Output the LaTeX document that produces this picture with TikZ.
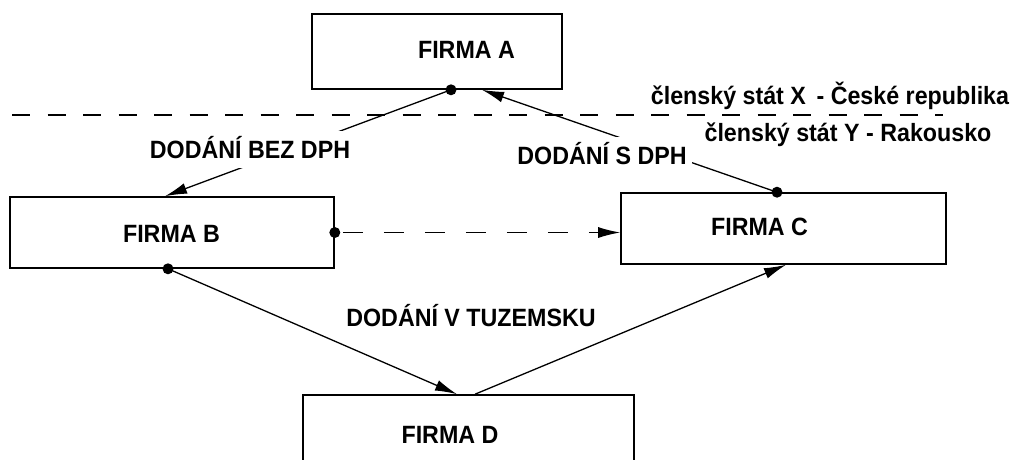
\documentclass[tikz,border=0pt]{standalone}
\usepackage{fontspec}
\setmainfont{Liberation Sans}[FakeStretch=0.93]
\usetikzlibrary{arrows.meta,calc}
\begin{document}
\begin{tikzpicture}[x=1pt,y=-1pt,
  box/.style={draw, line width=1.6pt, rectangle, inner sep=0pt},
  txt/.style={font=\fontsize{25}{30}\selectfont\bfseries, anchor=base, inner sep=0pt},
  lbl/.style={txt, fill=white, inner sep=5pt, text depth=5pt},
  conn/.style={line width=1.3pt},
  arr/.style={conn, -{Latex[length=22pt,width=11pt]}},
  dot/.style={circle, fill, inner sep=0pt, minimum size=11pt},
  border/.style={line width=1.8pt, dash pattern=on 18pt off 17.5pt}
]
\useasboundingbox (0,0) rectangle (1019,459);

% boxes
\node[box, minimum width=250pt, minimum height=75pt] (A) at (437,51.5) {};
\node[box, minimum width=324pt, minimum height=71pt] (B) at (172,232.5) {};
\node[box, minimum width=325pt, minimum height=71pt] (C) at (783.5,228.5) {};
\node[box, minimum width=331pt, minimum height=85pt] (D) at (468.5,437.5) {};

\node[txt] (tA) at (466.5,58) {FIRMA A};
\node[txt] (tB) at (171.5,242) {FIRMA B};
\node[txt] (tC) at (759.5,235) {FIRMA C};
\node[txt] (tD) at (450,443) {FIRMA D};

% border between states
\coordinate (L1) at (12,115);
\coordinate (L2) at (943,115);
\draw[border] (L1) -- (L2);
\node[txt] (X) at (830,104) {členský stát X\, - České republika};
\node[txt] (Y) at (848,141) {členský stát Y - Rakousko};

% connection points
\coordinate (pA) at (451,0 |- A.south);
\coordinate (qA) at (482,0 |- A.south);
\coordinate (qB) at (165,0 |- B.north);
\coordinate (pBr) at (B.east);
\coordinate (qCl) at (C.west |- B.east);
\coordinate (pBb) at (168,0 |- B.south);
\coordinate (qD) at (457,0 |- D.north);
\coordinate (pD) at (475,0 |- D.north);
\coordinate (pC) at (777,0 |- C.north);
\coordinate (qCb) at (786,0 |- C.south);

\draw[arr] (pA) -- (qB);
\draw[arr] (pC) -- (qA);
\draw[arr, dash pattern=on 20pt off 21pt, dash phase=-8pt] (pBr) -- (qCl);
\draw[arr] (pBb) -- (qD);
\draw[arr] (pD) -- (qCb);

\node[lbl] (l1) at (250,158) {DODÁNÍ BEZ DPH};
\node[lbl] (l2) at (602,164) {DODÁNÍ S DPH};
\node[txt] (l3) at (471,326) {DODÁNÍ V TUZEMSKU};

\node[dot] (dA) at (pA) {};
\node[dot] (dC) at (pC) {};
\node[dot] (dBr) at (pBr) {};
\node[dot] (dBb) at (pBb) {};
\end{tikzpicture}
\end{document}
